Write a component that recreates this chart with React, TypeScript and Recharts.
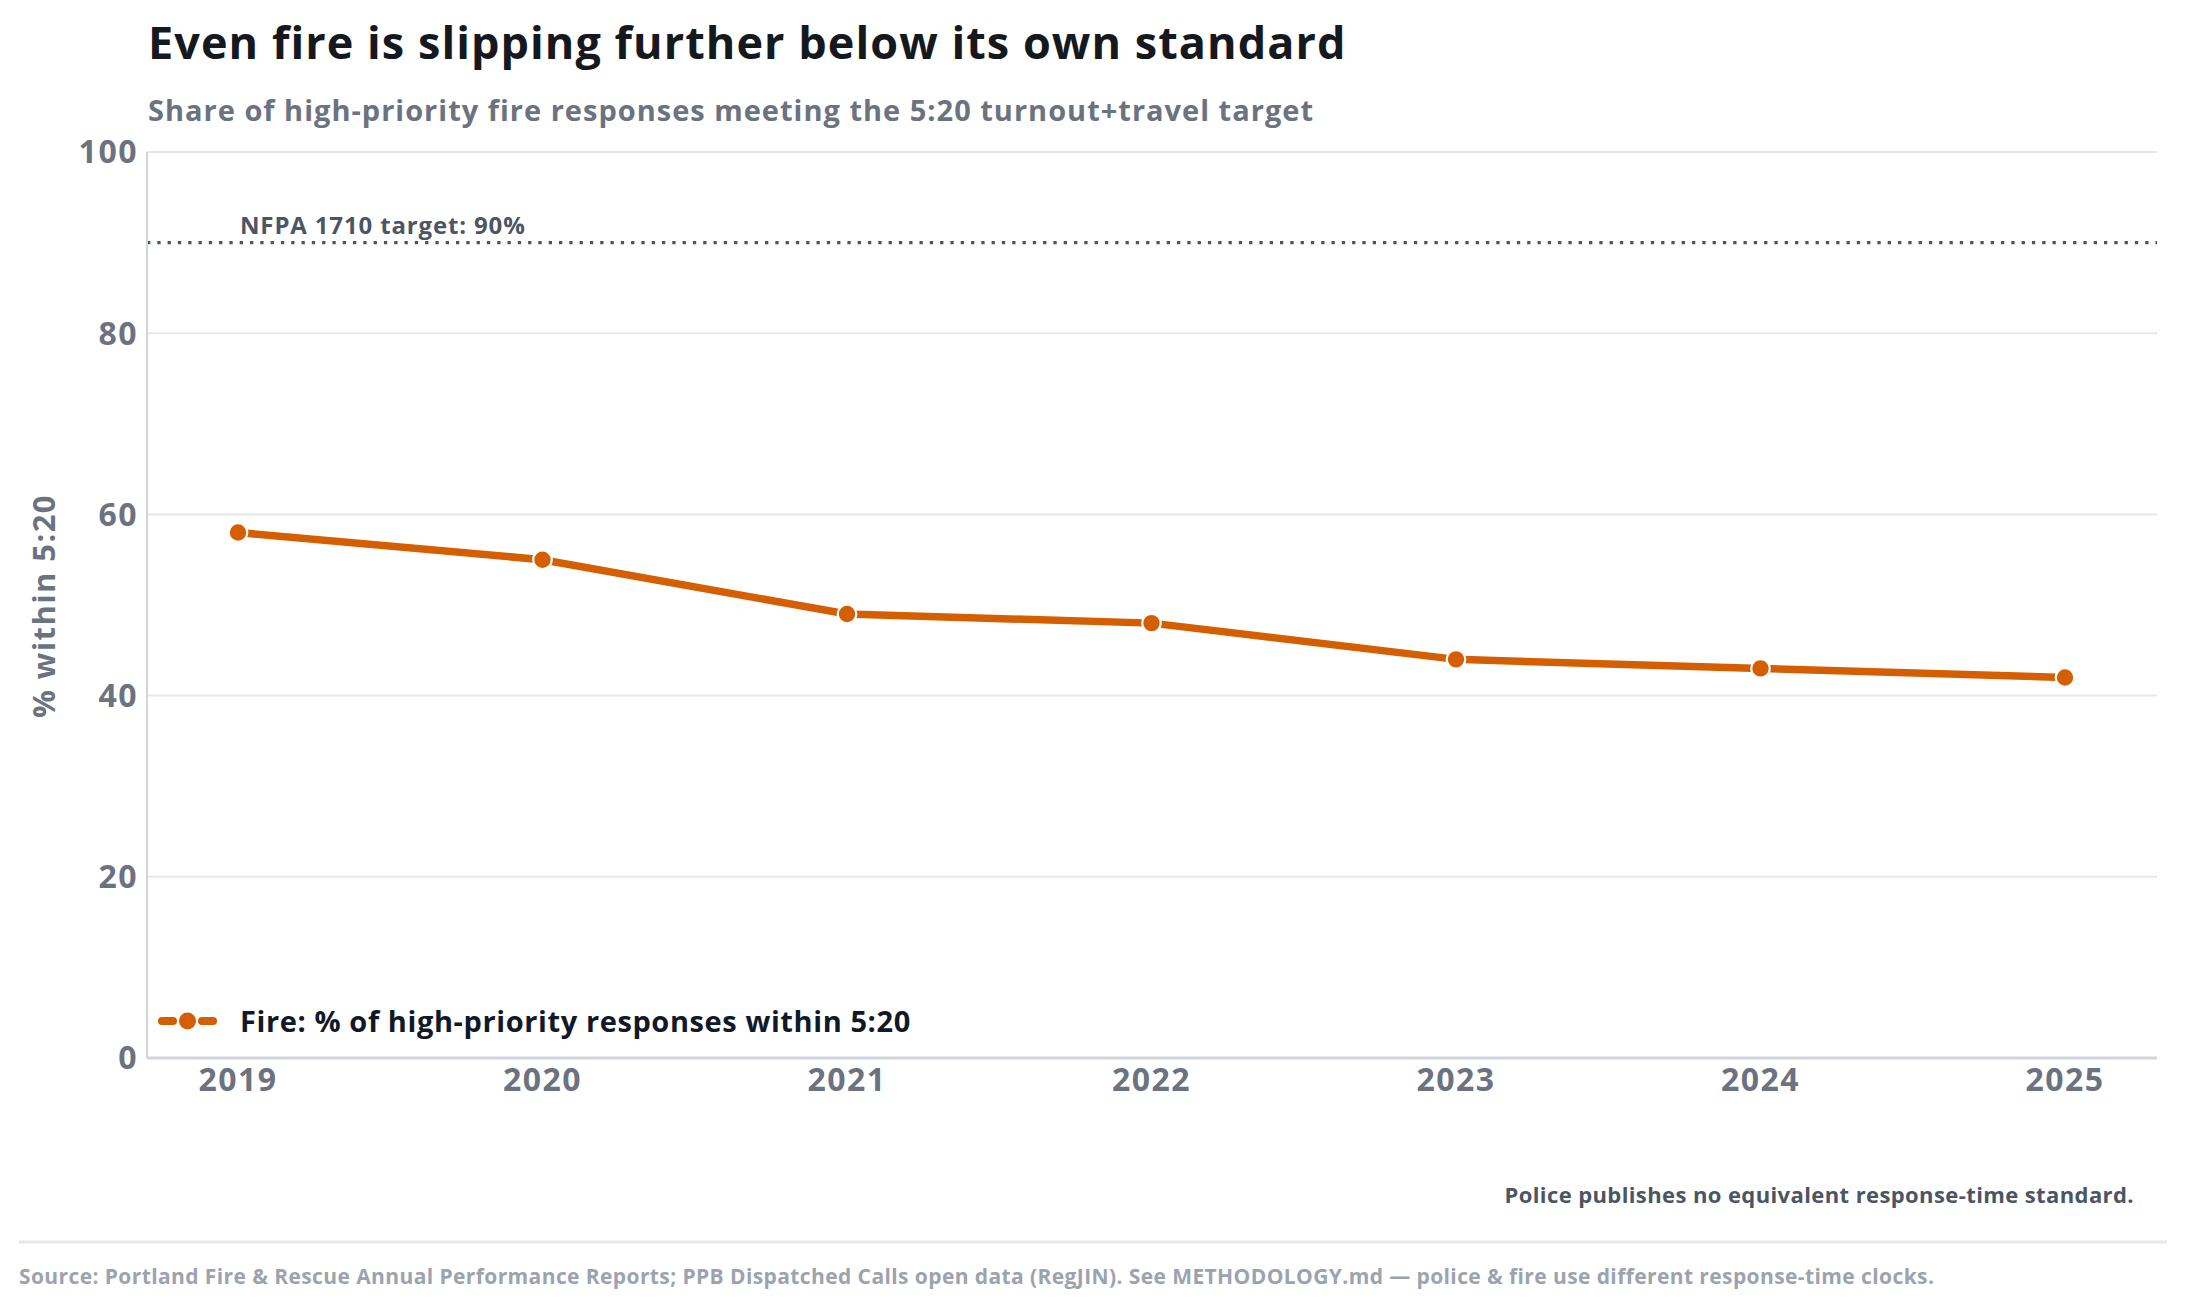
import React from 'react';
import {
  LineChart,
  Line,
  XAxis,
  YAxis,
  CartesianGrid,
  ReferenceLine,
  Legend,
} from 'recharts';

const years = ['2019', '2020', '2021', '2022', '2023', '2024', '2025'];
const fireWithin520 = [58, 55, 49, 48, 44, 43, 42];
const yTicks = [0, 20, 40, 60, 80, 100];
const targetValue = 90;

const seriesName = 'Fire: % of high-priority responses within 5:20';
const titleText = 'Even fire is slipping further below its own standard';
const subtitleText = 'Share of high-priority fire responses meeting the 5:20 turnout+travel target';
const yLabelText = '% within 5:20';
const targetLabel = 'NFPA 1710 target: 90%';
const noteText = 'Police publishes no equivalent response-time standard.';
const sourceText =
  'Source: Portland Fire & Rescue Annual Performance Reports; PPB Dispatched Calls open data (RegJIN). See METHODOLOGY.md \u2014 police & fire use different response-time clocks.';

const data = years.map((y, i) => ({ year: y, fire: fireWithin520[i] }));

const FONT = '"Open Sans", Lato, "Noto Sans", sans-serif';
const ORANGE = '#d55e00';
const W = 2187;
const H = 1306;

const tickStyle = {
  fill: '#6b7280',
  fontSize: 32,
  fontWeight: 700,
  fontFamily: FONT,
  letterSpacing: 1.5,
};

const LegendContent = () => (
  <svg width={800} height={44} style={{ display: 'block', overflow: 'visible' }}>
    <line x1={8} x2={19} y1={20} y2={20} stroke={ORANGE} strokeWidth={8} strokeLinecap="round" />
    <line x1={48} x2={59} y1={20} y2={20} stroke={ORANGE} strokeWidth={8} strokeLinecap="round" />
    <circle cx={33.5} cy={20} r={9.5} fill={ORANGE} stroke="#ffffff" strokeWidth={2} />
    <text
      x={86}
      y={31}
      fontFamily={FONT}
      fontWeight={700}
      fontSize={29}
      letterSpacing={0.6}
      fill="#111827"
    >
      {seriesName}
    </text>
  </svg>
);

const TargetLabel = (props: any) => {
  const vb = props.viewBox || {};
  return (
    <text
      x={(vb.x || 0) + 93}
      y={(vb.y || 0) - 9}
      fontFamily={FONT}
      fontWeight={700}
      fontSize={24}
      letterSpacing={0.85}
      fill="#4b5563"
    >
      {targetLabel}
    </text>
  );
};

export default function App() {
  return (
    <div
      style={{
        position: 'absolute',
        left: 0,
        top: 0,
        width: W,
        height: H,
        background: '#ffffff',
        fontFamily: FONT,
      }}
    >
      <div style={{ position: 'absolute', left: 0, top: 0 }}>
        <LineChart
          width={W}
          height={H}
          data={data}
          margin={{ top: 152, right: 30, bottom: 208, left: 0 }}
        >
          <CartesianGrid vertical={false} stroke="#e5e7eb" strokeWidth={2} />
          <XAxis
            dataKey="year"
            type="category"
            interval={0}
            height={40}
            padding={{ left: 91, right: 92 }}
            axisLine={{ stroke: '#d1d5db', strokeWidth: 3 }}
            tickLine={false}
            tickMargin={4}
            tick={tickStyle}
          />
          <YAxis
            width={147}
            domain={[0, 100]}
            ticks={yTicks}
            interval={0}
            axisLine={{ stroke: '#d1d5db', strokeWidth: 2 }}
            tickLine={false}
            tickMargin={3}
            tick={tickStyle}
          />
          <ReferenceLine
            y={targetValue}
            stroke="#4b5563"
            strokeWidth={3.2}
            strokeDasharray="3.3 7"
            label={<TargetLabel />}
            ifOverflow="extendDomain"
          />
          <Legend
            layout="vertical"
            align="center"
            verticalAlign="middle"
            wrapperStyle={{ left: 154, top: 1001, width: 800, height: 44 }}
            content={<LegendContent />}
          />
          <Line
            type="linear"
            dataKey="fire"
            name={seriesName}
            stroke={ORANGE}
            strokeWidth={7.5}
            dot={{ r: 9.3, fill: ORANGE, stroke: '#ffffff', strokeWidth: 2.2 }}
            activeDot={false}
            isAnimationActive={false}
          />
        </LineChart>
      </div>
      <svg
        width={W}
        height={H}
        style={{ position: 'absolute', left: 0, top: 0, pointerEvents: 'none' }}
      >
        <text
          x={148}
          y={59}
          fontFamily={FONT}
          fontWeight={700}
          fontSize={45}
          letterSpacing={1.05}
          fill="#15181d"
        >
          {titleText}
        </text>
        <text
          x={148}
          y={121}
          fontFamily={FONT}
          fontWeight={700}
          fontSize={29}
          letterSpacing={1.0}
          fill="#6b7280"
        >
          {subtitleText}
        </text>
        <text
          transform="translate(55,606) rotate(-90)"
          textAnchor="middle"
          fontFamily={FONT}
          fontWeight={700}
          fontSize={31}
          letterSpacing={1.4}
          fill="#6b7280"
        >
          {yLabelText}
        </text>
        <text
          x={2134}
          y={1203}
          textAnchor="end"
          fontFamily={FONT}
          fontWeight={700}
          fontSize={22}
          letterSpacing={0.4}
          fill="#4b5563"
        >
          {noteText}
        </text>
        <line x1={19} x2={2167} y1={1242} y2={1242} stroke="#e5e7eb" strokeWidth={3} />
        <text
          x={19}
          y={1284}
          fontFamily={FONT}
          fontWeight={700}
          fontSize={21}
          letterSpacing={0.4}
          fill="#9ca3af"
        >
          {sourceText}
        </text>
      </svg>
    </div>
  );
}
